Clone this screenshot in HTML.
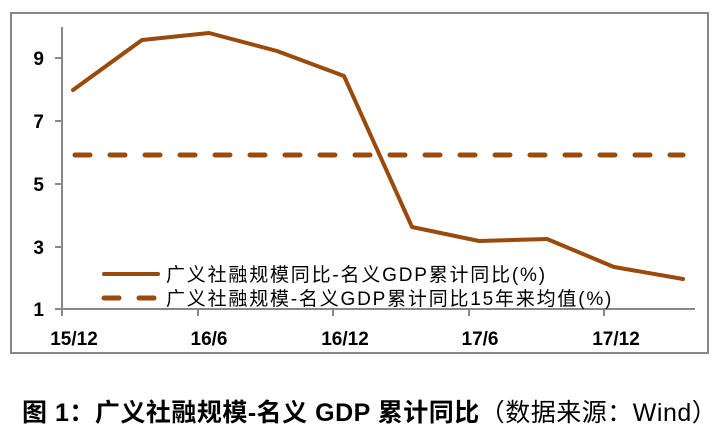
<!DOCTYPE html>
<html><head><meta charset="utf-8"><style>
body{margin:0;background:#fff;width:723px;height:435px;overflow:hidden}
svg text{font-family:"Liberation Sans","Noto Sans CJK SC",sans-serif}
</style></head><body>
<svg width="723" height="435" xmlns="http://www.w3.org/2000/svg">
<rect x="11" y="13" width="697" height="340" fill="#fff" stroke="#888" stroke-width="2"/>
<g stroke="#888" stroke-width="2" fill="none">
<line x1="62" y1="27" x2="62" y2="310"/>
<line x1="55" y1="309" x2="695" y2="309"/>
<line x1="55" y1="58" x2="62" y2="58"/><line x1="55" y1="121" x2="62" y2="121"/>
<line x1="55" y1="184" x2="62" y2="184"/><line x1="55" y1="247" x2="62" y2="247"/>
<line x1="62" y1="309" x2="62" y2="316"/><line x1="198" y1="309" x2="198" y2="316"/>
<line x1="333" y1="309" x2="333" y2="316"/><line x1="469" y1="309" x2="469" y2="316"/>
<line x1="604" y1="309" x2="604" y2="316"/>
</g>
<g font-size="19" font-weight="bold" fill="#000" text-anchor="end">
<text x="44" y="65">9</text><text x="44" y="128">7</text><text x="44" y="191">5</text><text x="44" y="254">3</text><text x="44" y="316">1</text>
</g>
<g font-size="19" font-weight="bold" fill="#000" text-anchor="middle">
<text x="74" y="345">15/12</text><text x="209" y="345">16/6</text><text x="345" y="345">16/12</text><text x="480" y="345">17/6</text><text x="616" y="345">17/12</text>
</g>
<polyline fill="none" stroke="#9a4a0c" stroke-width="4" stroke-linejoin="round" stroke-linecap="round"
 points="73,90 142,40 209,33 277,51 344,76 412,227 479,241 547,239 614,267 683,279"/>
<line x1="75" y1="155" x2="683" y2="155" stroke="#9a4a0c" stroke-width="5" stroke-dasharray="15 20" stroke-linecap="round"/>
<line x1="104" y1="274" x2="158" y2="274" stroke="#9a4a0c" stroke-width="4" stroke-linecap="round"/>
<line x1="104" y1="298" x2="158" y2="298" stroke="#9a4a0c" stroke-width="5" stroke-dasharray="15 20" stroke-linecap="round"/>
<g font-size="19" fill="#000" letter-spacing="1.8">
<text x="166" y="281">广义社融规模同比-名义GDP累计同比(%)</text>
<text x="166" y="305">广义社融规模-名义GDP累计同比15年来均值(%)</text>
</g>
<text x="22" y="421" font-size="25" font-weight="bold" letter-spacing="0.5" font-family="'Liberation Serif','Noto Serif CJK SC',serif">图 1：广义社融规模-名义 GDP 累计同比<tspan font-weight="normal">（数据来源：Wind）</tspan></text>
</svg>
</body></html>
